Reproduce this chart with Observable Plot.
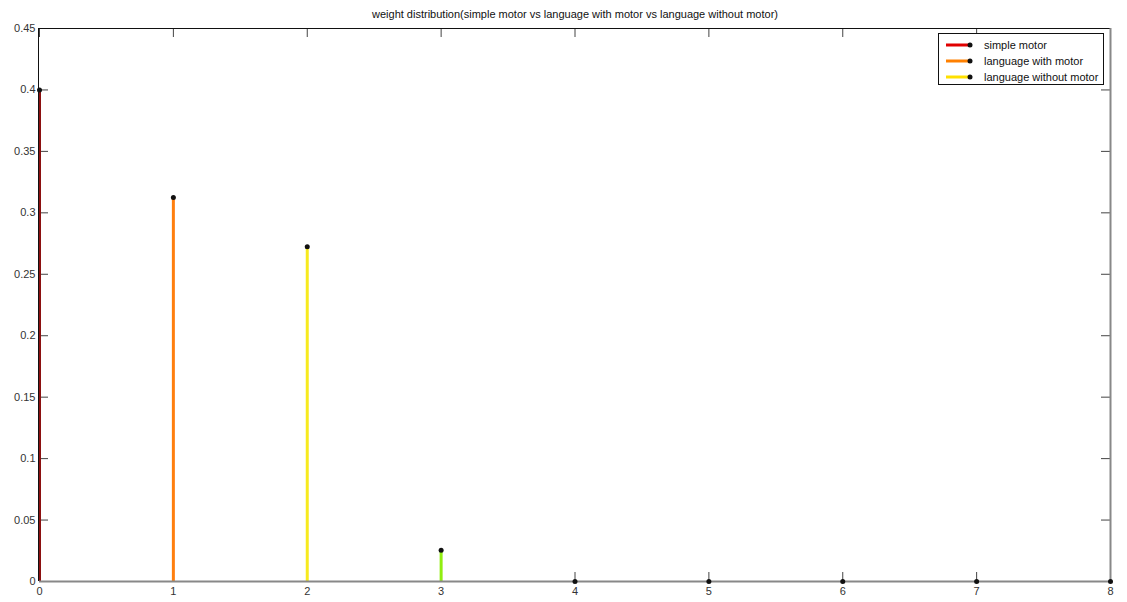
<!DOCTYPE html>
<html>
<head>
<meta charset="utf-8">
<script src="https://cdn.jsdelivr.net/npm/d3@7"></script>
<script src="https://cdn.jsdelivr.net/npm/@observablehq/plot@0.6"></script>
<style>
  html, body { margin: 0; padding: 0; background: #fff; }
  #wrap { position: relative; width: 1127px; height: 602px; font-family: "Liberation Sans", Arial, sans-serif; }
  #legend { position: absolute; left: 938px; top: 33px; width: 166px; height: 52px; border: 1px solid #111; background: #fff; box-sizing: border-box; }
  .row { position: absolute; left: 0; height: 16px; font-size: 11px; color: #111; line-height: 16px; }
  .row svg { position: absolute; left: 6px; top: 3px; }
  .row span { position: absolute; left: 45px; white-space: nowrap; }
</style>
</head>
<body>
<div id="wrap"></div>
<script>
const titleText = "weight distribution(simple motor vs language with motor vs language without motor)";
const xs = [0, 1, 2, 3, 4, 5, 6, 7, 8];
const values = [0.4, 0.3125, 0.2725, 0.0255, 0, 0, 0, 0, 0];
const stemColors = ["#8c1010", "#ff7f0f", "#f7ea1e", "#90ee10", "#1a3a2a", "#1a3a2a", "#1a3a2a", "#1a3a2a", "#111111"];
const yTicks = [0, 0.05, 0.1, 0.15, 0.2, 0.25, 0.3, 0.35, 0.4, 0.45];
const xTicks = [0, 1, 2, 3, 4, 5, 6, 7, 8];
const legendNames = ["simple motor", "language with motor", "language without motor"];
const legendColors = ["#e00000", "#ff8000", "#ffe000"];

const W = 1127, H = 602;
const mL = 39, mR = 17, mT = 28, mB = 21;
const pw = W - mL - mR, ph = H - mT - mB;
const tl = 9;

const data = xs.map((x, i) => ({x, v: values[i], c: stemColors[i]}));

const chart = Plot.plot({
  width: W, height: H,
  marginLeft: mL, marginRight: mR, marginTop: mT, marginBottom: mB,
  style: {fontFamily: "Liberation Sans, Arial, sans-serif", fontSize: "11px", color: "#333", background: "#fff"},
  x: {domain: [0, 8], ticks: xTicks, label: null},
  y: {domain: [0, 0.45], ticks: yTicks, label: null},
  marks: [
    Plot.axisX({ticks: xTicks, tickSize: 0, tickPadding: 6, tickFormat: d => String(d), fill: "#333", fontSize: 11}),
    Plot.axisY({ticks: yTicks, tickSize: 0, tickPadding: 4, tickFormat: d => d3.format("~g")(d), fill: "#333", fontSize: 11}),
    // inward ticks
    Plot.tickY(yTicks, {y: d => d, insetRight: pw - tl, stroke: "#444"}),
    Plot.tickY(yTicks, {y: d => d, insetLeft: pw - tl, stroke: "#444"}),
    Plot.tickX(xTicks, {x: d => d, insetTop: ph - tl, stroke: "#444"}),
    Plot.tickX(xTicks, {x: d => d, insetBottom: ph - tl, stroke: "#444"}),
    Plot.ruleY([0.45], {stroke: "#111"}),
    Plot.ruleX([8], {stroke: "#888", strokeWidth: 2}),
    // stems
    Plot.ruleX(data, {x: "x", y1: 0, y2: "v", stroke: "c", strokeWidth: 3}),
    Plot.ruleX([0], {stroke: "#111", dx: -1}),
    Plot.ruleY([0], {stroke: "#888", strokeWidth: 2}),
    Plot.dot(data, {x: "x", y: "v", r: 2.5, fill: "#111", stroke: null}),
    Plot.text([titleText], {frameAnchor: "top", dy: -18, fill: "#111", fontSize: 11, textAnchor: "middle"})
  ]
});

const wrap = document.getElementById("wrap");
wrap.appendChild(chart);

const legend = document.createElement("div");
legend.id = "legend";
legendNames.forEach((name, i) => {
  const row = document.createElement("div");
  row.className = "row";
  row.style.top = (3 + i * 16) + "px";
  row.innerHTML = `<svg width="30" height="10"><line x1="1" y1="5" x2="25" y2="5" stroke="${legendColors[i]}" stroke-width="3"/><circle cx="25" cy="5" r="2.5" fill="#111"/></svg><span>${name}</span>`;
  legend.appendChild(row);
});
wrap.appendChild(legend);
</script>
</body>
</html>
